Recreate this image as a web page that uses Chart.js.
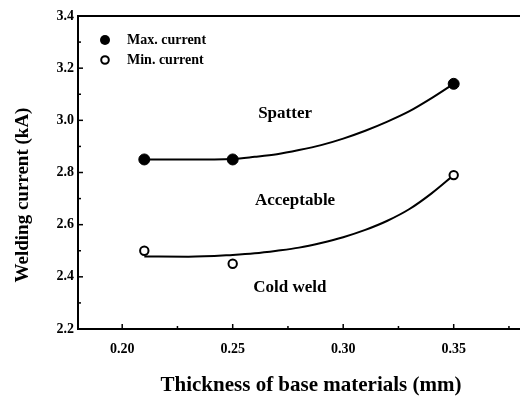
<!DOCTYPE html>
<html>
<head>
<meta charset="utf-8">
<script src="https://cdn.jsdelivr.net/npm/chart.js@4/dist/chart.umd.min.js"></script>
<style>
  html, body { margin: 0; padding: 0; background: #fff; }
  #wrap { width: 520px; height: 399px; position: relative; }
</style>
</head>
<body>
<div id="wrap"><canvas id="chart"></canvas></div>
<script>
// measured points
const thickness = [0.21, 0.25, 0.35];
const maxCurrent = [2.85, 2.85, 3.14];
const minCurrent = [2.50, 2.45, 2.79];

// fitted curves
const fitX = [0.21, 0.23, 0.25, 0.26, 0.27, 0.28, 0.29, 0.30, 0.31, 0.32, 0.33, 0.34, 0.35];
const maxFit = [2.85, 2.85, 2.852, 2.86, 2.87, 2.886, 2.905, 2.93, 2.96, 2.995, 3.035, 3.085, 3.14];
const minFit = [2.478, 2.477, 2.484, 2.49, 2.50, 2.512, 2.53, 2.552, 2.58, 2.615, 2.66, 2.72, 2.79];

const xTicks = [0.20, 0.25, 0.30, 0.35];
const yTicks = [2.2, 2.4, 2.6, 2.8, 3.0, 3.2, 3.4];
const xTickMarks = [0.20, 0.225, 0.25, 0.275, 0.30, 0.325, 0.35, 0.375];
const yTickMarks = [2.3, 2.4, 2.5, 2.6, 2.7, 2.8, 2.9, 3.0, 3.1, 3.2, 3.3];

const legendLabels = ['Max. current', 'Min. current'];
const regionNames = ['Spatter', 'Acceptable', 'Cold weld'];
const xTitle = 'Thickness of base materials (mm)';
const yTitle = 'Welding current (kA)';

const serif = '"Liberation Serif", "Times New Roman", serif';
const pts = (xs, ys) => xs.map((x, i) => ({ x: x, y: ys[i] }));

const decor = {
  id: 'decor',
  afterDraw(chart) {
    const { ctx, chartArea: a, scales: { x, y } } = chart;
    ctx.save();
    ctx.strokeStyle = '#000';
    ctx.fillStyle = '#000';

    // top frame line
    ctx.lineWidth = 2;
    ctx.beginPath();
    ctx.moveTo(a.left, a.top);
    ctx.lineTo(a.right, a.top);
    ctx.stroke();

    // inward tick marks
    ctx.lineWidth = 1.5;
    xTickMarks.forEach(v => {
      const px = x.getPixelForValue(v);
      const len = xTicks.includes(v) ? 5 : 3;
      ctx.beginPath();
      ctx.moveTo(px, a.bottom);
      ctx.lineTo(px, a.bottom - len);
      ctx.stroke();
    });
    yTickMarks.forEach(v => {
      const py = y.getPixelForValue(v);
      const len = yTicks.includes(v) ? 5 : 3;
      ctx.beginPath();
      ctx.moveTo(a.left, py);
      ctx.lineTo(a.left + len, py);
      ctx.stroke();
    });

    // legend
    ctx.font = 'bold 14px ' + serif;
    ctx.textBaseline = 'middle';
    ctx.textAlign = 'left';
    const lx = a.left + 27, ly = a.top + 24;
    ctx.beginPath();
    ctx.arc(lx, ly, 5, 0, Math.PI * 2);
    ctx.fill();
    ctx.fillText(legendLabels[0], lx + 22, ly);
    ctx.lineWidth = 2;
    ctx.beginPath();
    ctx.arc(lx, ly + 20, 3.8, 0, Math.PI * 2);
    ctx.stroke();
    ctx.fillText(legendLabels[1], lx + 22, ly + 20);

    // region labels
    ctx.font = 'bold 17px ' + serif;
    ctx.textAlign = 'center';
    const spots = [[0.2737, 3.024], [0.2782, 2.694], [0.2759, 2.357]];
    regionNames.forEach((t, i) => {
      ctx.fillText(t, x.getPixelForValue(spots[i][0]), y.getPixelForValue(spots[i][1]));
    });

    // axis titles
    ctx.font = 'bold 21px ' + serif;
    ctx.fillText(xTitle, 311, 386);
    ctx.translate(23, 195);
    ctx.rotate(-Math.PI / 2);
    ctx.font = 'bold 19px ' + serif;
    ctx.fillText(yTitle, 0, 0);
    ctx.restore();
  }
};

new Chart(document.getElementById('chart'), {
  type: 'scatter',
  data: {
    datasets: [
      {
        label: 'Max. current',
        data: pts(thickness, maxCurrent),
        pointRadius: 5.5,
        pointBackgroundColor: '#000',
        pointBorderColor: '#000',
        showLine: false,
        order: 0
      },
      {
        label: 'Min. current',
        data: pts(thickness, minCurrent),
        pointRadius: 4.2,
        pointBorderWidth: 2,
        pointBackgroundColor: '#fff',
        pointBorderColor: '#000',
        showLine: false,
        order: 0
      },
      {
        type: 'line',
        label: 'max fit',
        data: pts(fitX, maxFit),
        pointRadius: 0,
        borderColor: '#000',
        borderWidth: 2,
        cubicInterpolationMode: 'monotone',
        fill: false,
        order: 1
      },
      {
        type: 'line',
        label: 'min fit',
        data: pts(fitX, minFit),
        pointRadius: 0,
        borderColor: '#000',
        borderWidth: 2,
        cubicInterpolationMode: 'monotone',
        fill: false,
        order: 1
      }
    ]
  },
  options: {
    responsive: true,
    maintainAspectRatio: false,
    animation: false,
    layout: { autoPadding: false, padding: { top: 16, right: 0, bottom: 0, left: 0 } },
    plugins: {
      legend: { display: false },
      tooltip: { enabled: false }
    },
    scales: {
      x: {
        type: 'linear',
        min: 0.18,
        max: 0.38,
        afterBuildTicks: s => { s.ticks = xTicks.map(v => ({ value: v })); },
        afterFit: s => { s.height = 70; s.paddingLeft = 0; s.paddingRight = 0; },
        grid: { display: false, drawTicks: false },
        border: { display: true, color: '#000', width: 2 },
        ticks: {
          padding: 12,
          color: '#000',
          font: { family: serif, size: 14, weight: 'bold' },
          callback: v => Number(v).toFixed(2)
        }
      },
      y: {
        type: 'linear',
        min: 2.2,
        max: 3.4,
        afterBuildTicks: s => { s.ticks = yTicks.map(v => ({ value: v })); },
        afterFit: s => { s.width = 78; s.paddingTop = 0; s.paddingBottom = 0; },
        grid: { display: false, drawTicks: false },
        border: { display: true, color: '#000', width: 2 },
        ticks: {
          padding: 4,
          color: '#000',
          font: { family: serif, size: 14, weight: 'bold' },
          callback: v => Number(v).toFixed(1)
        }
      }
    }
  },
  plugins: [decor]
});
</script>
</body>
</html>
